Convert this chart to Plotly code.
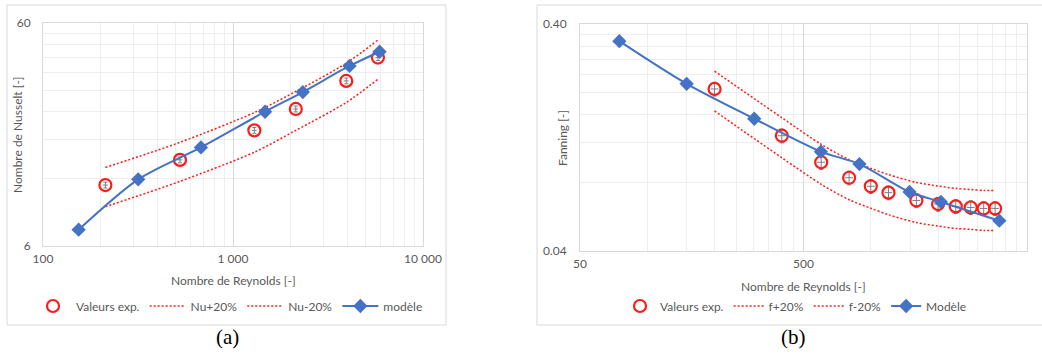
import math
import plotly.graph_objects as go

# ---------------- (a) Nusselt ----------------
re_model_a = [154, 317, 678, 1475, 2330, 4105, 5910]
nu_model = [7.10, 11.94, 16.6, 24.0, 29.4, 38.5, 44.6]
re_exp_a = [213, 526, 1295, 2140, 3944, 5790]
nu_exp = [11.26, 14.6, 19.8, 24.7, 33.0, 42.0]
nu_plus = [13.5, 17.5, 23.8, 29.6, 39.6, 50.4]
nu_minus = [9.0, 11.7, 15.8, 19.8, 26.4, 33.6]

xa_ticks = [100, 1000, 10000]
xa_ticktext = ["100", "1 000", "10 000"]
xa_minor = [200, 300, 400, 500, 600, 700, 800, 900,
            2000, 3000, 4000, 5000, 6000, 7000, 8000, 9000]
ya_ticks = [6, 60]
ya_ticktext = ["6", "60"]
ya_minor = [12, 18, 24, 30, 36, 42, 48, 54]

# ---------------- (b) Fanning ----------------
re_model_b = [75, 150, 301, 598, 890, 1491, 2060, 3760]
f_model = [0.336, 0.218, 0.153, 0.1096, 0.0966, 0.0728, 0.0658, 0.0544]
re_exp_b = [200, 400, 600, 800, 1000, 1200, 1600, 2000, 2400, 2800, 3200, 3600]
f_exp = [0.207, 0.1288, 0.0984, 0.0841, 0.0771, 0.0723, 0.0668, 0.0644,
         0.0629, 0.0622, 0.0616, 0.0616]
f_plus = [0.248, 0.1546, 0.118, 0.1009, 0.0925, 0.0868, 0.0802, 0.0773,
          0.0755, 0.0746, 0.0739, 0.0739]
f_minus = [0.1656, 0.103, 0.0787, 0.0673, 0.0617, 0.0578, 0.0534, 0.0515,
           0.0503, 0.0498, 0.0493, 0.0493]

xb_ticks = [50, 500, 5000]
xb_ticktext = ["50", "500", "5 000"]
xb_minor = [100, 150, 200, 250, 300, 350, 400, 450,
            1000, 1500, 2000, 2500, 3000, 3500, 4000, 4500]
yb_ticks = [0.04, 0.4]
yb_ticktext = ["0.04", "0.40"]
yb_minor = [0.08, 0.12, 0.16, 0.20, 0.24, 0.28, 0.32, 0.36]

W, H = 1042, 360
FONT = "Lato"
TXT = "#595959"
RED = "#FF1A1A"
BLUE = "#4472C4"
GRID_MIN = "#EEEEEE"
GRID_MAJ = "#D9D9D9"
DOT = "2px,2px"

fig = go.Figure()

def add_panel(xa, ya, legend, re_m, v_m, re_e, v_e, v_p, v_n, names, ey, ex):
    fig.add_trace(go.Scatter(
        x=re_e, y=v_e, mode="markers", name=names[0], xaxis=xa, yaxis=ya, legend=legend,
        marker=dict(symbol="circle-open", size=12, color=RED, line=dict(width=2.2, color=RED)),
        error_y=dict(type="percent", value=ey, color="#7F7F7F", thickness=1, width=2),
        error_x=dict(type="percent", value=ex, color="#7F7F7F", thickness=1, width=0),
    ))
    fig.add_trace(go.Scatter(
        x=re_e, y=v_p, mode="lines", name=names[1], xaxis=xa, yaxis=ya, legend=legend,
        line=dict(color=RED, width=1.5, dash=DOT, shape="spline", smoothing=0.8),
    ))
    fig.add_trace(go.Scatter(
        x=re_e, y=v_n, mode="lines", name=names[2], xaxis=xa, yaxis=ya, legend=legend,
        line=dict(color=RED, width=1.5, dash=DOT, shape="spline", smoothing=0.8),
    ))
    fig.add_trace(go.Scatter(
        x=re_m, y=v_m, mode="lines+markers", name=names[3], xaxis=xa, yaxis=ya, legend=legend,
        line=dict(color=BLUE, width=2, shape="spline", smoothing=0.8),
        marker=dict(symbol="diamond", size=11, color=BLUE),
    ))

add_panel("x", "y", "legend", re_model_a, nu_model, re_exp_a, nu_exp, nu_plus, nu_minus,
          ["Valeurs exp.", "Nu+20%", "Nu-20%", "modèle"], 3, 3)
add_panel("x2", "y2", "legend2", re_model_b, f_model, re_exp_b, f_exp, f_plus, f_minus,
          ["Valeurs exp.", "f+20%", "f-20%", "Modèle"], 7, 4)

def axis(dom, rng, tv, tt, minor, anchor, standoff):
    return dict(type="log", domain=dom, range=rng, anchor=anchor,
                tickmode="array", tickvals=tv, ticktext=tt,
                showgrid=True, gridcolor=GRID_MAJ, gridwidth=1,
                minor=dict(tickmode="array", tickvals=minor, showgrid=True,
                           gridcolor=GRID_MIN, gridwidth=1, ticks=""),
                showline=True, mirror=True, linecolor=GRID_MAJ, linewidth=1,
                ticks="", ticklabelstandoff=standoff, zeroline=False, automargin=False,
                tickfont=dict(family=FONT, size=12, color=TXT))

fig.update_layout(
    width=W, height=H,
    margin=dict(l=0, r=0, t=0, b=0, autoexpand=False),
    paper_bgcolor="white", plot_bgcolor="white",
    font=dict(family=FONT, size=12, color=TXT),
    xaxis=axis([43 / W, 423 / W], [2, 4], xa_ticks, xa_ticktext, xa_minor, "y", 2),
    yaxis=axis([1 - 246 / H, 1 - 23 / H], [math.log10(6), math.log10(60)],
               ya_ticks, ya_ticktext, ya_minor, "x", 9),
    xaxis2=axis([580 / W, 1027 / W], [math.log10(50), math.log10(5000)],
                xb_ticks, xb_ticktext, xb_minor, "y2", 2),
    yaxis2=axis([1 - 251 / H, 1 - 24 / H], [math.log10(0.04), math.log10(0.4)],
                yb_ticks, yb_ticktext, yb_minor, "x2", 10),
    legend=dict(orientation="h", x=229 / W, y=1 - 306 / H, xanchor="center", yanchor="middle",
                font=dict(family=FONT, size=12, color=TXT), bgcolor="rgba(0,0,0,0)",
                itemwidth=36),
    legend2=dict(orientation="h", x=796 / W, y=1 - 306 / H, xanchor="center", yanchor="middle",
                 font=dict(family=FONT, size=12, color=TXT), bgcolor="rgba(0,0,0,0)",
                 itemwidth=30),
    showlegend=True,
)

# chart-area borders
fig.add_shape(type="rect", xref="paper", yref="paper",
              x0=7 / W, x1=446 / W, y0=1 - 325 / H, y1=1 - 5 / H,
              line=dict(color="#D9D9D9", width=1), layer="below")
fig.add_shape(type="rect", xref="paper", yref="paper",
              x0=537 / W, x1=1.01, y0=1 - 325 / H, y1=1 - 5 / H,
              line=dict(color="#D9D9D9", width=1), layer="below")

def note(text, x, y, angle=0, fam=FONT, size=12, color=TXT):
    fig.add_annotation(text=text, xref="paper", yref="paper", x=x / W, y=1 - y / H,
                       xanchor="center", yanchor="middle", showarrow=False, textangle=angle,
                       font=dict(family=fam, size=size, color=color))

# axis titles
note("Nombre de Reynolds [-]", 233, 280)
note("Nombre de Reynolds [-]", 803, 286)
note("Nombre de Nusselt [-]", 17, 135, angle=-90)
note("Fanning [-]", 562, 138, angle=-90)

# captions
note("(a)", 227, 337, fam="Liberation Serif", size=21, color="black")
note("(b)", 793, 337, fam="Liberation Serif", size=21, color="black")

fig.write_html("out.html", config={"displayModeBar": False},
               post_script="document.body.style.margin='0px';document.body.style.overflow='hidden';")
